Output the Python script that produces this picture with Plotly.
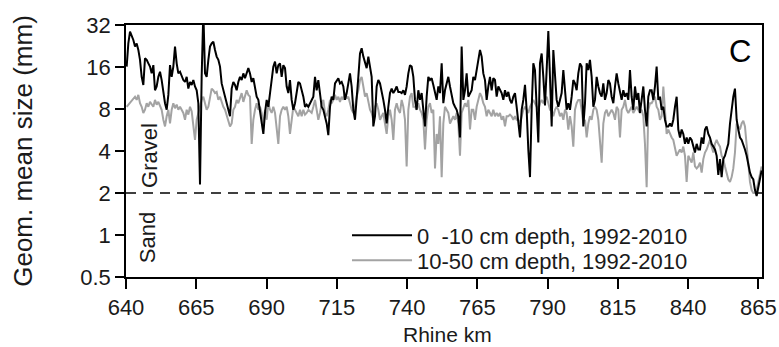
import plotly.graph_objects as go

KM_START = 640.24
KM_STEP = 0.593

# 0-10 cm depth, geometric mean size (mm)
top_640_684 = [16.1, 23.6, 28.7, 27.1, 25.0, 22.4, 23.6, 21.2, 18.0, 13.6,
               11.9, 18.5, 18.0, 17.0, 16.1, 14.4, 16.5, 10.9, 11.6, 13.6,
               14.8, 12.9, 10.4, 8.8, 7.9, 10.1, 16.5, 13.6, 16.1, 22.4,
               17.0, 14.4, 14.8, 13.6, 12.9, 12.5, 13.6, 11.2, 12.5, 11.9,
               12.9, 11.6, 10.9, 8.8, 2.3, 13.6, 40.0, 14.4, 13.6, 18.0,
               22.4, 23.6, 24.3, 21.2, 19.0, 18.0, 16.1, 12.2, 10.9, 9.8,
               8.8, 7.9, 7.1, 11.2, 12.5, 11.9, 10.9, 12.5, 13.6, 12.9,
               14.4, 13.3, 14.8, 15.7, 14.4]
top_684_737 = [12.5, 13.3, 11.6, 9.8, 9.3, 7.9, 6.3, 5.3, 7.5, 9.3,
               8.3, 10.4, 12.2, 16.1, 17.5, 14.4, 16.5, 17.0, 13.6, 16.5,
               15.7, 11.6, 10.4, 12.9, 9.3, 7.9, 8.8, 10.9, 12.5, 12.2,
               10.9, 9.8, 8.3, 8.6, 8.3, 8.8, 9.3, 9.8, 13.6, 10.9,
               12.9, 10.4, 8.3, 7.9, 7.1, 6.3, 5.2, 8.3, 9.8, 9.3,
               12.2, 12.9, 13.3, 12.2, 12.5, 11.6, 9.3, 10.4, 12.2, 14.4,
               11.6, 7.9, 6.7, 10.4, 13.6, 20.0, 21.8, 19.0, 17.0, 15.7,
               19.0, 16.1, 13.6, 6.0, 7.1, 11.6, 12.9, 12.2, 10.9, 9.3,
               7.9, 6.3, 8.3, 10.4, 11.2, 10.4, 10.9, 11.6, 10.6, 10.6]
top_738_791 = [10.4, 10.9, 10.1, 11.6, 14.4, 16.5, 16.1, 13.6, 9.3, 7.9,
               10.9, 9.3, 10.4, 8.3, 6.0, 9.8, 13.6, 12.9, 13.3, 11.9,
               10.4, 9.3, 11.6, 10.4, 17.0, 8.8, 10.9, 12.5, 13.6, 11.6,
               9.8, 8.8, 8.3, 7.9, 7.1, 5.0, 22.4, 9.3, 10.9, 14.4,
               9.8, 10.4, 10.9, 13.6, 12.9, 15.2, 18.0, 21.2, 19.0, 14.4,
               12.9, 9.3, 11.6, 13.6, 10.9, 13.3, 12.9, 9.8, 11.6, 10.9,
               10.4, 9.3, 10.9, 9.8, 10.6, 9.3, 8.8, 9.8, 10.4, 8.3,
               6.7, 5.0, 7.9, 9.3, 11.9, 7.9, 4.1, 2.6, 8.0, 17.0,
               15.2, 8.8, 4.6, 17.0, 20.0, 13.6, 8.5, 15.2, 29.0, 13.6]
top_791_844 = [6.0, 21.2, 13.6, 9.3, 8.3, 9.3, 10.4, 15.2, 10.4, 7.9,
               8.8, 7.9, 9.8, 12.9, 12.2, 10.9, 14.4, 17.0, 16.1, 6.0,
               8.8, 17.0, 15.2, 18.0, 13.6, 8.3, 9.3, 13.6, 11.6, 10.4,
               9.8, 12.2, 9.3, 10.4, 12.9, 12.2, 9.8, 8.8, 11.6, 14.4,
               12.2, 10.4, 9.3, 10.9, 9.8, 10.4, 9.3, 15.2, 9.8, 7.9,
               11.6, 9.3, 10.4, 7.5, 9.8, 11.6, 7.9, 6.0, 9.8, 10.9,
               10.9, 9.3, 11.6, 16.1, 9.3, 9.8, 7.9, 8.3, 6.7, 6.0,
               6.0, 6.3, 6.0, 6.7, 8.3, 9.8, 5.7, 5.0, 5.7, 5.3,
               4.5, 5.0, 4.5, 5.0, 4.8, 4.3, 3.9, 4.5, 4.1, 4.1]
top_845_866 = [5.0, 4.5, 5.7, 6.0, 5.3, 5.0, 4.5, 4.3, 4.1, 3.7,
               2.7, 3.5, 2.6, 3.5, 3.7, 4.1, 4.5, 6.3, 8.3, 9.8,
               11.2, 6.7, 5.7, 5.0, 4.8, 4.5, 4.1, 3.7, 3.1, 2.8,
               2.6, 2.5, 2.1, 1.9, 2.2, 2.6, 2.9]

# 10-50 cm depth, geometric mean size (mm)
sub_640_684 = [8.3, 8.6, 8.8, 9.3, 9.5, 9.8, 9.3, 10.1, 8.8, 8.3,
               7.5, 7.9, 8.8, 8.3, 9.0, 8.6, 8.3, 9.3, 8.6, 9.0,
               8.3, 7.9, 6.7, 6.0, 7.1, 7.9, 6.3, 7.9, 8.8, 8.1,
               8.6, 7.9, 8.3, 7.9, 7.5, 6.7, 7.9, 7.3, 8.3, 7.7,
               6.0, 4.8, 6.7, 7.5, 8.3, 9.3, 9.8, 8.6, 7.9, 8.3,
               9.8, 11.2, 10.9, 10.4, 10.6, 9.3, 9.8, 9.0, 8.3, 7.9,
               7.1, 6.7, 6.0, 6.3, 7.9, 8.3, 9.3, 8.8, 9.8, 10.4,
               9.0, 9.8, 10.9, 10.1, 9.8]
sub_684_737 = [4.5, 6.7, 7.9, 8.8, 7.9, 8.3, 7.5, 6.0, 7.9, 6.7,
               8.8, 7.9, 7.5, 8.3, 7.5, 6.0, 4.5, 7.1, 7.9, 8.3,
               7.9, 8.3, 7.1, 5.3, 6.7, 8.3, 7.9, 7.5, 7.1, 7.9,
               7.1, 7.9, 7.3, 7.5, 7.9, 7.7, 7.5, 8.3, 9.3, 7.9,
               6.7, 7.5, 8.8, 9.3, 7.5, 7.1, 7.9, 9.3, 8.8, 9.3,
               10.1, 9.3, 9.8, 9.0, 9.8, 9.3, 10.4, 9.5, 9.8, 8.8,
               7.9, 7.5, 8.3, 9.8, 10.9, 12.9, 13.6, 11.6, 9.8, 10.4,
               8.8, 7.9, 7.5, 6.7, 8.3, 8.8, 7.9, 6.7, 7.1, 7.5,
               6.3, 5.3, 7.1, 7.9, 6.7, 4.8, 7.9, 8.8, 7.9, 7.5]
sub_738_791 = [9.3, 8.3, 6.7, 3.1, 7.9, 9.8, 10.4, 8.3, 8.3, 7.9,
               8.8, 7.9, 7.5, 6.7, 4.1, 6.7, 8.3, 8.8, 7.5, 7.9,
               3.0, 5.3, 4.5, 7.1, 2.6, 6.3, 8.3, 7.9, 7.5, 6.3,
               6.7, 7.1, 6.7, 7.5, 6.3, 3.7, 7.5, 8.3, 8.8, 8.3,
               9.3, 5.7, 7.9, 7.9, 6.7, 8.3, 9.3, 10.4, 9.8, 8.8,
               8.3, 7.1, 7.9, 7.5, 7.1, 7.9, 7.1, 7.5, 7.1, 7.5,
               6.7, 7.1, 6.0, 7.1, 7.1, 7.3, 7.1, 6.7, 7.1, 6.7,
               6.7, 6.3, 7.1, 7.9, 8.3, 7.9, 7.5, 8.3, 8.8, 9.3,
               8.8, 8.3, 7.9, 8.8, 9.3, 8.8, 9.3, 9.8, 8.8, 7.9]
sub_791_844 = [7.9, 7.1, 7.9, 8.3, 7.9, 7.1, 7.5, 6.7, 7.9, 7.5,
               5.7, 7.1, 6.0, 4.3, 7.9, 8.8, 9.3, 9.3, 7.9, 6.3,
               6.7, 5.0, 6.3, 7.1, 6.7, 7.9, 8.3, 7.9, 6.7, 5.0,
               3.3, 6.3, 7.5, 7.9, 7.1, 7.5, 7.9, 7.5, 6.7, 8.3,
               7.9, 5.0, 7.9, 8.3, 9.3, 7.9, 7.5, 7.9, 8.3, 7.5,
               7.9, 8.3, 7.9, 7.5, 7.9, 7.1, 4.5, 2.2, 7.9, 8.8,
               8.8, 9.3, 9.8, 8.3, 7.9, 6.7, 7.1, 11.6, 7.1, 5.3,
               5.7, 5.3, 5.0, 4.8, 4.1, 3.7, 3.9, 4.1, 3.9, 4.3,
               3.7, 2.4, 3.7, 3.5, 3.3, 3.9, 3.1, 3.0, 3.1, 3.3]
sub_845_866 = [2.8, 3.5, 3.9, 4.1, 4.5, 4.8, 4.3, 3.9, 4.5, 4.8,
               4.5, 4.3, 3.7, 3.5, 3.1, 2.8, 2.5, 2.4, 2.6, 3.0,
               3.9, 6.3, 6.0, 5.7, 6.3, 6.6, 6.0, 4.5, 3.3, 2.4,
               2.1, 2.0, 2.0, 2.1, 2.4, 2.8, 3.1]

top_mm = top_640_684 + top_684_737 + top_738_791 + top_791_844 + top_845_866
sub_mm = sub_640_684 + sub_684_737 + sub_738_791 + sub_791_844 + sub_845_866
km_top = [round(KM_START + KM_STEP * i, 2) for i in range(len(top_mm))]
km_sub = [round(KM_START + KM_STEP * i, 2) for i in range(len(sub_mm))]

x_ticks = [640, 665, 690, 715, 740, 765, 790, 815, 840, 865]
y_ticks = [0.5, 1, 2, 4, 8, 16, 32]
y_tick_text = ["0.5", "1", "2", "4", "8", "16", "32"]
name_top = "0  -10 cm depth, 1992-2010"
name_sub = "10-50 cm depth, 1992-2010"
x_title = "Rhine km"
y_title = "Geom. mean size (mm)"
GRAVEL_SAND_LIMIT = 2

FONT = "Liberation Sans, Arial, Helvetica, sans-serif"
TEXT = "#1a1a1a"

fig = go.Figure()
fig.add_trace(go.Scatter(x=km_sub, y=sub_mm, mode="lines", name=name_sub,
                         line=dict(color="#a3a3a3", width=2), legend="legend2"))
fig.add_trace(go.Scatter(x=km_top, y=top_mm, mode="lines", name=name_top,
                         line=dict(color="#000000", width=2), legend="legend"))

fig.add_hline(y=GRAVEL_SAND_LIMIT, line=dict(color="black", width=1.5, dash="10px,7px"))

legend_style = dict(xanchor="left", yanchor="top", bgcolor="rgba(0,0,0,0)",
                    font=dict(size=22), itemwidth=60)

fig.update_layout(
    width=779, height=347,
    margin=dict(l=126, r=17, t=25, b=70, autoexpand=False),
    paper_bgcolor="white", plot_bgcolor="white",
    font=dict(family=FONT, size=22, color=TEXT),
    showlegend=True,
    legend=dict(x=0.3475, y=0.248, **legend_style),
    legend2=dict(x=0.3475, y=0.149, **legend_style),
    xaxis=dict(range=[640, 866.3], tickvals=x_ticks, ticks="outside", ticklen=10,
               tickwidth=1.5, tickcolor="black", showline=True, linecolor="black",
               linewidth=1.5, mirror=True, showgrid=False, zeroline=False,
               automargin=False, ticklabelstandoff=0, tickfont=dict(size=22)),
    yaxis=dict(type="log", range=[-0.30103, 1.50515], tickvals=y_ticks,
               ticktext=y_tick_text, ticks="outside", ticklen=9, tickwidth=1.5,
               tickcolor="black", showline=True, linecolor="black", linewidth=1.5,
               mirror=True, showgrid=False, zeroline=False, automargin=False,
               title=dict(text=y_title, standoff=40),
               tickfont=dict(size=22)),
    annotations=[
        dict(text=x_title, xref="paper", yref="paper", x=0.505, y=-0.229,
             xanchor="center", yanchor="middle",
             showarrow=False, font=dict(size=21, color=TEXT)),
        dict(text="C", xref="paper", yref="paper", x=0.965, y=0.893,
             xanchor="center", yanchor="middle",
             showarrow=False, font=dict(size=31, color="black")),
        dict(text="Gravel", xref="paper", yref="paper", x=0.036, y=0.484,
             xanchor="center", yanchor="middle",
             textangle=-90, showarrow=False, font=dict(size=22, color=TEXT)),
        dict(text="Sand", xref="paper", yref="paper", x=0.035, y=0.155,
             xanchor="center", yanchor="middle",
             textangle=-90, showarrow=False, font=dict(size=22, color=TEXT)),
    ],
)

fig.write_html("out.html")
